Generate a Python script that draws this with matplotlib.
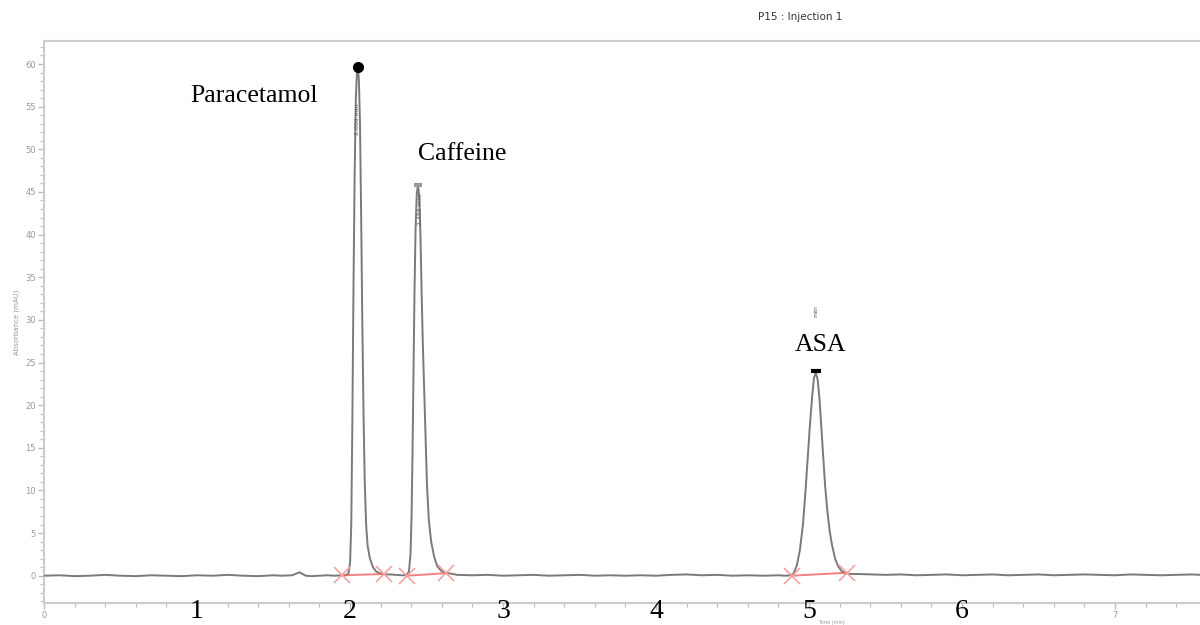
import matplotlib
matplotlib.use("Agg")
import matplotlib.pyplot as plt
from matplotlib.ticker import MultipleLocator

# chromatogram trace (time in min, absorbance in mAU)
baseline_t = [0.0, 0.1, 0.2, 0.3, 0.4, 0.5, 0.6, 0.7, 0.8, 0.9, 1.0, 1.1, 1.2, 1.3, 1.4, 1.5,
              1.55, 1.62, 1.65, 1.67, 1.69, 1.71, 1.75, 1.8, 1.85, 1.9, 1.95,
              2.26, 2.3, 2.34, 2.66, 2.7, 2.8, 2.9, 3.0, 3.1, 3.2, 3.3, 3.4, 3.5, 3.6, 3.7,
              3.8, 3.9, 4.0, 4.1, 4.2, 4.3, 4.4, 4.5, 4.6, 4.7, 4.8, 4.85,
              5.32, 5.4, 5.5, 5.6, 5.7, 5.8, 5.9, 6.0, 6.1, 6.2, 6.3, 6.4, 6.5, 6.6, 6.7,
              6.8, 6.9, 7.0, 7.1, 7.2, 7.3, 7.4, 7.5, 7.56]
baseline_a = [0.0, 0.05, -0.05, 0.0, 0.1, 0.0, -0.05, 0.05, 0.0, -0.05, 0.05, 0.0, 0.1, 0.0, -0.05, 0.05,
              0.0, 0.05, 0.25, 0.4, 0.2, 0.0, -0.05, 0.0, 0.05, 0.0, 0.05,
              0.15, 0.1, 0.05, 0.25, 0.1, 0.05, 0.1, 0.0, 0.05, 0.1, 0.0, 0.05, 0.1, 0.0, 0.05,
              0.0, 0.05, 0.0, 0.1, 0.15, 0.05, 0.1, 0.0, 0.05, 0.0, 0.05, 0.0,
              0.2, 0.15, 0.1, 0.15, 0.05, 0.1, 0.15, 0.05, 0.1, 0.15, 0.05, 0.1, 0.15, 0.05, 0.1,
              0.15, 0.1, 0.05, 0.15, 0.1, 0.05, 0.1, 0.15, 0.1]

para_t = [1.975, 1.99, 2.0, 2.008, 2.015, 2.022, 2.03, 2.038, 2.046, 2.052, 2.058, 2.065,
          2.072, 2.08, 2.088, 2.096, 2.105, 2.115, 2.13, 2.15, 2.17, 2.2, 2.23]
para_a = [0.05, 0.3, 1.5, 6.0, 18.0, 33.0, 47.0, 56.0, 59.5, 59.6, 58.0, 53.0,
          43.0, 30.0, 19.0, 11.0, 6.0, 3.5, 2.0, 1.0, 0.5, 0.25, 0.15]

caff_t = [2.37, 2.385, 2.395, 2.402, 2.408, 2.414, 2.421, 2.428, 2.436, 2.444, 2.452, 2.46,
          2.468, 2.476, 2.484, 2.493, 2.503, 2.515, 2.53, 2.55, 2.57, 2.6, 2.63]
caff_a = [0.05, 0.5, 2.5, 7.0, 14.0, 23.0, 33.0, 40.5, 44.8, 45.8, 44.5, 40.0,
          33.0, 27.0, 22.0, 16.0, 10.5, 6.5, 4.0, 2.2, 1.1, 0.5, 0.3]

asa_t = [4.88, 4.9, 4.92, 4.94, 4.96, 4.975, 4.99, 5.005, 5.02, 5.032, 5.044, 5.056, 5.068,
         5.08, 5.092, 5.105, 5.12, 5.135, 5.15, 5.17, 5.19, 5.215, 5.25, 5.28]
asa_a = [0.05, 0.3, 1.2, 3.0, 6.0, 9.5, 13.5, 17.5, 21.0, 23.2, 23.8, 23.0, 20.8,
         17.5, 14.0, 10.5, 7.5, 5.2, 3.6, 2.0, 1.1, 0.5, 0.25, 0.2]

# peak apex, names and retention labels
peak_names = ["Paracetamol", "Caffeine", "ASA"]
peak_t = [2.05, 2.444, 5.044]
peak_a = [59.6, 45.8, 23.8]
rt_labels = ["2.050 min", "2.456 min", "min"]

# integration baselines (start, end)
integ_t = [(1.95, 2.22), (2.37, 2.63), (4.89, 5.25)]
integ_a = [(0.05, 0.2), (0.0, 0.3), (0.0, 0.35)]

x_ticks = [0, 1, 2, 3, 4, 5, 6, 7]
x_small_labels = ["0", "", "", "", "", "", "", "7"]
x_big_labels = ["1", "2", "3", "4", "5", "6"]

trace = sorted(zip(baseline_t + para_t + caff_t + asa_t, baseline_a + para_a + caff_a + asa_a))
t = [p[0] for p in trace]
a = [p[1] for p in trace]

fig = plt.figure(figsize=(12, 6.25), dpi=100)
ax = fig.add_axes([0.0367, 0.0352, 0.9633, 0.8992])

ax.plot(t, a, color="#7a7a7a", lw=1.4, zorder=3)

for (t0, t1), (a0, a1) in zip(integ_t, integ_a):
    ax.plot([t0, t1], [a0, a1], color="#f06060", lw=1.4, alpha=0.8, zorder=4)
    ax.plot([t0, t1], [a0, a1], ls="none", marker="x", ms=11, mew=1.2,
            color="#f4a3a3", zorder=4)

# peak apex markers
ax.plot(peak_t[0], peak_a[0], "o", color="black", ms=7, zorder=5)
ax.plot(peak_t[1], peak_a[1], "_", color="#999999", ms=6, mew=3, zorder=5)
ax.plot(peak_t[2], peak_a[2] + 0.2, "_", color="black", ms=7, mew=3, zorder=5)

# retention time labels
rt_pos = [(2.046, 53.5), (2.458, 43.0), (5.046, 31.0)]
for lab, (x, y) in zip(rt_labels, rt_pos):
    ax.text(x, y, lab, rotation=90, ha="center", va="center", fontsize=4.5, color="#555555", zorder=6)

# compound names
name_pos = [(0.954, 56.2), (2.444, 49.4), (4.908, 27.0)]
for name, (x, y) in zip(peak_names, name_pos):
    ax.text(x, y, name, ha="left", va="center", fontsize=18.5, family="Liberation Serif", color="black")

ax.set_xlim(0, 7.555)
ax.set_ylim(-3.2, 62.7)

ax.set_xticks(x_ticks)
ax.set_xticklabels(x_small_labels, fontsize=6, color="#999999")
ax.xaxis.set_minor_locator(MultipleLocator(0.2))
ax.yaxis.set_major_locator(MultipleLocator(5))
ax.yaxis.set_minor_locator(MultipleLocator(1))
ax.tick_params(axis="both", which="both", colors="#bbbbbb", labelcolor="#999999", direction="out")
ax.tick_params(axis="both", which="major", length=4, width=1, labelsize=6, pad=2)
ax.tick_params(axis="both", which="minor", length=3, width=0.8)

for lab, x in zip(x_big_labels, x_ticks[1:7]):
    ax.text(x, -0.016, lab, transform=ax.get_xaxis_transform(), ha="center", va="center",
            fontsize=20, family="Liberation Serif", color="black")

for s in ["left", "bottom", "top"]:
    ax.spines[s].set_color("#cccccc")
    ax.spines[s].set_linewidth(1.5)
ax.spines["right"].set_visible(False)

ax.set_ylabel("Absorbance (mAU)", fontsize=5, color="#999999", labelpad=4)
fig.text(0.693, 0.0, "Time (min)", ha="center", va="bottom", fontsize=3.5, color="#999999")

fig.text(0.667, 1 - 17 / 625, "P15 : Injection 1", ha="center", va="center", fontsize=7.5, color="#333333")

plt.savefig("out.png", dpi=100)
